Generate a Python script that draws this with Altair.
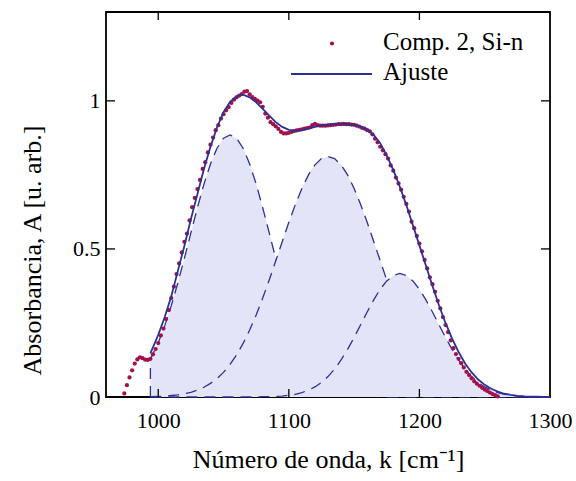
import altair as alt
import pandas as pd

# ---------------- data ----------------
k_data = [974, 976, 978, 980, 982, 984, 986, 988, 990, 992,
          994, 996, 998, 1000, 1002, 1004, 1006, 1008, 1010, 1012,
          1014, 1016, 1018, 1020, 1022, 1024, 1026, 1028, 1030, 1032,
          1034, 1036, 1038, 1040, 1042, 1044, 1046, 1048, 1050, 1052,
          1054, 1056, 1058, 1060, 1062, 1064, 1066, 1068, 1070, 1072,
          1074, 1076, 1078, 1080, 1082, 1084, 1086, 1088, 1090, 1092,
          1094, 1096, 1098, 1100, 1102, 1104, 1106, 1108, 1110, 1112,
          1114, 1116, 1118, 1120, 1122, 1124, 1126, 1128, 1130, 1132,
          1134, 1136, 1138, 1140, 1142, 1144, 1146, 1148, 1150, 1152,
          1154, 1156, 1158, 1160, 1162, 1164, 1166, 1168, 1170, 1172,
          1174, 1176, 1178, 1180, 1182, 1184, 1186, 1188, 1190, 1192,
          1194, 1196, 1198, 1200, 1202, 1204, 1206, 1208, 1210, 1212,
          1214, 1216, 1218, 1220, 1222, 1224, 1226, 1228, 1230, 1232,
          1234, 1236, 1238, 1240, 1242, 1244, 1246, 1248, 1250, 1252,
          1254, 1256, 1258, 1260]
a_data = [0.012, 0.040, 0.066, 0.090, 0.113, 0.127, 0.134, 0.131, 0.126, 0.125,
          0.129, 0.144, 0.162, 0.182, 0.208, 0.231, 0.263, 0.293, 0.334, 0.373,
          0.415, 0.451, 0.488, 0.524, 0.552, 0.596, 0.641, 0.672, 0.702, 0.733,
          0.770, 0.793, 0.826, 0.852, 0.876, 0.901, 0.918, 0.940, 0.955, 0.968,
          0.979, 0.993, 1.004, 1.012, 1.018, 1.023, 1.031, 1.033, 1.022, 1.013,
          1.007, 1.001, 0.995, 0.980, 0.957, 0.943, 0.928, 0.921, 0.914, 0.905,
          0.895, 0.890, 0.890, 0.892, 0.895, 0.898, 0.900, 0.902, 0.904, 0.906,
          0.908, 0.910, 0.918, 0.922, 0.918, 0.916, 0.916, 0.916, 0.917, 0.918,
          0.919, 0.920, 0.921, 0.921, 0.922, 0.921, 0.921, 0.920, 0.919, 0.916,
          0.913, 0.909, 0.906, 0.901, 0.897, 0.887, 0.872, 0.860, 0.845, 0.833,
          0.820, 0.805, 0.782, 0.764, 0.741, 0.721, 0.700, 0.676, 0.652, 0.626,
          0.592, 0.570, 0.544, 0.518, 0.492, 0.463, 0.434, 0.404, 0.381, 0.355,
          0.325, 0.299, 0.270, 0.243, 0.219, 0.191, 0.165, 0.145, 0.129, 0.114,
          0.100, 0.085, 0.074, 0.063, 0.053, 0.045, 0.038, 0.031, 0.025, 0.020,
          0.015, 0.010, 0.006, 0.002]

k_fit = [994, 1000, 1005, 1010, 1015, 1020, 1025, 1030, 1035, 1040,
         1045, 1050, 1055, 1060, 1065, 1070, 1075, 1080, 1085, 1090,
         1095, 1100, 1105, 1110, 1115, 1120, 1125, 1130, 1135, 1140,
         1145, 1150, 1155, 1160, 1165, 1170, 1175, 1180, 1185, 1190,
         1195, 1200, 1205, 1210, 1215, 1220, 1225, 1230, 1235, 1240,
         1245, 1250, 1255, 1260, 1265, 1270, 1275, 1280, 1285, 1290,
         1295, 1300]
a_fit = [0.147, 0.210, 0.270, 0.340, 0.425, 0.510, 0.600, 0.685, 0.770, 0.845,
         0.910, 0.962, 0.997, 1.015, 1.021, 1.012, 0.995, 0.973, 0.950, 0.928,
         0.912, 0.902, 0.899, 0.901, 0.906, 0.912, 0.917, 0.920, 0.922, 0.922,
         0.921, 0.918, 0.913, 0.903, 0.885, 0.857, 0.815, 0.767, 0.710, 0.648,
         0.580, 0.512, 0.443, 0.375, 0.310, 0.250, 0.197, 0.152, 0.113, 0.083,
         0.059, 0.041, 0.028, 0.018, 0.011, 0.007, 0.004, 0.002, 0.001, 0.001,
         0.000, 0.000]

k_comp = [994, 994, 1000, 1005, 1010, 1015, 1020, 1025, 1030, 1035, 1040,
          1045, 1050, 1055, 1060, 1065, 1070, 1075, 1080, 1085, 1090,
          1095, 1100, 1105, 1110, 1115, 1120, 1125, 1130, 1135, 1140,
          1145, 1150, 1155, 1160, 1165, 1170, 1175, 1180, 1185, 1190,
          1195, 1200, 1205, 1210, 1215, 1220, 1225, 1230, 1235, 1240,
          1245, 1250, 1255, 1260, 1265, 1270, 1275, 1280, 1285, 1290,
          1295, 1300]
g1 = [0.0, 0.128, 0.183, 0.241, 0.309, 0.385, 0.468, 0.554, 0.639, 0.719, 0.787,
      0.840, 0.874, 0.885, 0.874, 0.840, 0.787, 0.719, 0.639, 0.554, 0.468,
      0.385, 0.309, 0.241, 0.183, 0.136, 0.098, 0.069, 0.047, 0.032, 0.021,
      0.013, 0.008, 0.005, 0.003, 0.002, 0.001, 0.0, 0.0, 0.0, 0.0,
      0.0, 0.0, 0.0, 0.0, 0.0, 0.0, 0.0, 0.0, 0.0, 0.0,
      0.0, 0.0, 0.0, 0.0, 0.0, 0.0, 0.0, 0.0, 0.0, 0.0,
      0.0, 0.0]
g2 = [0.0, 0.001, 0.002, 0.003, 0.005, 0.007, 0.011, 0.016, 0.023, 0.033, 0.046,
      0.062, 0.083, 0.110, 0.142, 0.181, 0.226, 0.277, 0.334, 0.395, 0.460,
      0.525, 0.590, 0.650, 0.704, 0.750, 0.784, 0.805, 0.812, 0.805, 0.784,
      0.750, 0.704, 0.650, 0.590, 0.525, 0.460, 0.395, 0.334, 0.277, 0.226,
      0.181, 0.142, 0.110, 0.083, 0.062, 0.046, 0.033, 0.023, 0.016, 0.011,
      0.007, 0.005, 0.003, 0.002, 0.001, 0.001, 0.0, 0.0, 0.0, 0.0,
      0.0, 0.0]
g3 = [0.0, 0.0, 0.0, 0.0, 0.0, 0.0, 0.0, 0.0, 0.0, 0.0, 0.0,
      0.0, 0.0, 0.0, 0.0, 0.0, 0.0, 0.0, 0.001, 0.001, 0.002,
      0.003, 0.006, 0.009, 0.015, 0.023, 0.034, 0.049, 0.069, 0.094, 0.125,
      0.161, 0.201, 0.244, 0.287, 0.328, 0.364, 0.392, 0.410, 0.417, 0.410,
      0.392, 0.364, 0.328, 0.287, 0.244, 0.201, 0.161, 0.125, 0.094, 0.069,
      0.049, 0.034, 0.023, 0.015, 0.009, 0.006, 0.003, 0.002, 0.001, 0.001,
      0.0, 0.0]

x_ticks = [1000, 1100, 1200, 1300]
y_ticks = [0, 0.5, 1]
legend_labels = ["Comp. 2, Si-n", "Ajuste"]
x_title = "Número de onda, k [cm⁻¹]"
y_title = "Absorbancia, A [u. arb.]"

# ---------------- style ----------------
W, H = 444, 385
FONT = "Liberation Serif"
BLUE = "#2c3193"
FILL = "#e3e4f7"
RED = "#a3104a"

data_df = pd.DataFrame({"k": k_data, "A": a_data})
fit_df = pd.DataFrame({"k": k_fit, "A": a_fit})

xs = alt.Scale(domain=[960, 1300], nice=False, zero=False)
ys = alt.Scale(domain=[0, 1.3], nice=False)

x_axis = alt.Axis(values=x_ticks, format="d", title=x_title, grid=False, domain=False,
                  ticks=False, tickSize=0, labelFont=FONT, labelFontSize=22,
                  labelColor="black", labelPadding=30, labelBaseline="alphabetic",
                  labelFlush=False, labelOverlap=False, titleFont=FONT,
                  titleFontSize=26, titleFontWeight="normal", titleColor="black",
                  titleY=70, titleBaseline="alphabetic")
y_axis = alt.Axis(values=y_ticks, labelExpr="'' + datum.value", title=y_title,
                  grid=False, domain=False, ticks=False, tickSize=0, labelFont=FONT,
                  labelFontSize=22, labelColor="black", labelPadding=6,
                  labelBaseline="middle", labelFlush=False, labelOverlap=False,
                  titleFont=FONT, titleFontSize=26, titleFontWeight="normal",
                  titleColor="black", titleAngle=270, titleX=-74, titleY=238,
                  titleAlign="center", titleBaseline="middle")

X = alt.X("k:Q", scale=xs, axis=x_axis)
Y = alt.Y("A:Q", scale=ys, axis=y_axis)

# each component: filled area then its dashed outline, drawn in sequence
comp_layers = []
for vals in (g1, g2, g3):
    sub = pd.DataFrame({"k": k_comp, "A": vals, "base": [0.0] * len(k_comp),
                        "i": list(range(len(k_comp)))})
    comp_layers.append(
        alt.Chart(sub).mark_area(fill=FILL, fillOpacity=1, opacity=1,
                                 strokeWidth=0, interpolate="linear").encode(
            x=X, y=Y, y2=alt.Y2("base:Q")))
    comp_layers.append(
        alt.Chart(sub).mark_line(color=BLUE, strokeWidth=1.3,
                                 strokeDash=[11, 7]).encode(x=X, y=Y, order="i:Q"))

dots = alt.Chart(data_df).mark_circle(color=RED, size=18, opacity=1).encode(x=X, y=Y)
fit = alt.Chart(fit_df).mark_line(color=BLUE, strokeWidth=1.8).encode(x=X, y=Y)

xt_df = pd.DataFrame({"k": x_ticks[:-1]})
yt_df = pd.DataFrame({"A": y_ticks[1:]})
tick_style = dict(color="black", strokeWidth=1.3)
xt_bot = alt.Chart(xt_df).mark_rule(**tick_style).encode(x=X, y=alt.value(H), y2=alt.value(H - 8))
xt_top = alt.Chart(xt_df).mark_rule(**tick_style).encode(x=X, y=alt.value(0), y2=alt.value(8))
yt_l = alt.Chart(yt_df).mark_rule(**tick_style).encode(y=Y, x=alt.value(0), x2=alt.value(9))
yt_r = alt.Chart(yt_df).mark_rule(**tick_style).encode(y=Y, x=alt.value(W - 9), x2=alt.value(W))

leg1_df = pd.DataFrame({"label": [legend_labels[0]]})
leg2_df = pd.DataFrame({"label": [legend_labels[1]]})
leg_text1 = alt.Chart(leg1_df).mark_text(align="left", baseline="alphabetic", font=FONT,
                                         fontSize=25, color="black").encode(
    text="label:N", x=alt.value(277), y=alt.value(38))
leg_text2 = alt.Chart(leg2_df).mark_text(align="left", baseline="alphabetic", font=FONT,
                                         fontSize=25, color="black").encode(
    text="label:N", x=alt.value(277), y=alt.value(68))
leg_dot = alt.Chart(leg1_df).mark_circle(color=RED, size=18, opacity=1).encode(
    x=alt.value(226), y=alt.value(31.5))
leg_line = alt.Chart(leg2_df).mark_rule(color=BLUE, strokeWidth=1.8).encode(
    x=alt.value(185), x2=alt.value(266), y=alt.value(62))

chart = alt.layer(
    *comp_layers, dots, fit, xt_bot, xt_top, yt_l, yt_r,
    leg_text1, leg_text2, leg_dot, leg_line
).properties(
    width=W, height=H,
    autosize=alt.AutoSizeParams(type="none"),
    padding={"left": 106, "top": 12, "right": 26, "bottom": 84},
    background="white",
).configure_view(stroke="black", strokeWidth=1.8)

chart.save("out.html", embed_options={"renderer": "svg", "actions": False})
